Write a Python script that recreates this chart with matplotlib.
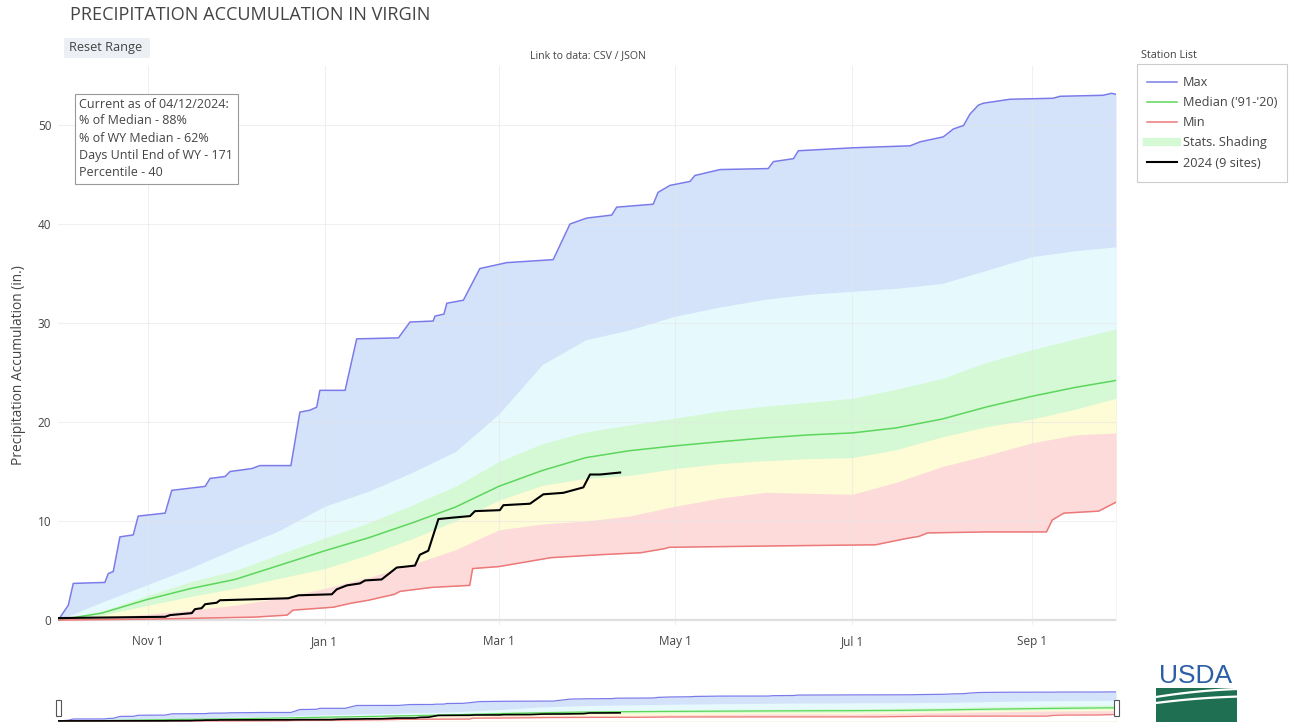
import datetime as dt
import matplotlib
matplotlib.use("Agg")
import matplotlib.pyplot as plt
import matplotlib.dates as mdates
from matplotlib.lines import Line2D
from matplotlib.patches import Rectangle, FancyBboxPatch
from matplotlib.ticker import FuncFormatter, MultipleLocator

plt.rcParams['font.family'] = ['Open Sans', 'DejaVu Sans']

W, H = 1291, 722
START = dt.datetime(2023, 10, 1)

# percentile bands, days since Oct 1 (water year 2024)
band_days = [0, 15, 31, 46, 61, 76, 92, 107, 122, 137, 152, 167, 182, 197,
             213, 228, 244, 259, 274, 289, 305, 320, 336, 351, 365]
p90 = [0, 1.8, 3.6, 5.3, 7.2, 9.0, 11.5, 13.0, 14.9, 17.0, 20.8, 25.8, 28.3, 29.3,
       30.7, 31.6, 32.4, 32.9, 33.2, 33.5, 34.0, 35.3, 36.7, 37.3, 37.7]
p70 = [0, 0.9, 2.5, 3.9, 5.0, 6.6, 8.3, 9.8, 11.6, 13.5, 16.0, 17.8, 19.0, 19.7,
       20.4, 21.1, 21.6, 22.0, 22.4, 23.3, 24.4, 26.0, 27.3, 28.4, 29.4]
median = [0, 0.7, 2.1, 3.2, 4.1, 5.5, 7.0, 8.3, 9.8, 11.4, 13.5, 15.1, 16.4, 17.1,
          17.6, 18.0, 18.4, 18.7, 18.9, 19.4, 20.3, 21.5, 22.6, 23.5, 24.2]
p30 = [0, 0.5, 1.5, 2.4, 3.2, 4.2, 5.2, 6.6, 8.2, 10.0, 12.1, 13.6, 14.3, 14.6,
       15.3, 15.8, 16.1, 16.3, 16.4, 17.2, 18.5, 19.5, 20.3, 21.3, 22.4]
p10 = [0, 0.2, 0.6, 1.0, 1.5, 2.2, 3.2, 4.3, 5.6, 7.1, 9.1, 9.7, 10.0, 10.5,
       11.5, 12.3, 12.9, 12.8, 12.7, 13.9, 15.5, 16.6, 17.9, 18.7, 18.9]

max_days = [0, 3.5, 5.2, 16.1, 17.3, 19, 21.3, 25.9, 27.6, 36.9, 39.2, 50.7, 52.4,
            57.6, 59.3, 66.8, 69.6, 80.3, 83.4, 86.9, 89.2, 90.3, 99, 103, 117.4,
            121.4, 129.4, 130, 133.1, 134.1, 139.8, 145.5, 154.8, 170.8, 176.6,
            182.4, 191, 192.7, 205.3, 207, 211.1, 218, 219.7, 228.4, 245, 246.8,
            253.7, 255.4, 274.4, 294, 297.4, 305.4, 308.9, 312.4, 314.6, 317.5,
            319.2, 328.4, 343.3, 345.7, 360.5, 363.5, 365]
max_vals = [0, 1.5, 3.7, 3.8, 4.7, 4.9, 8.4, 8.6, 10.5, 10.8, 13.1, 13.5, 14.3,
            14.5, 15.0, 15.3, 15.6, 15.6, 21.0, 21.2, 21.5, 23.2, 23.2, 28.4, 28.5,
            30.1, 30.2, 30.7, 30.9, 32.0, 32.3, 35.5, 36.1, 36.4, 40.0,
            40.6, 40.9, 41.7, 42.0, 43.2, 43.9, 44.3, 44.9, 45.5, 45.6, 46.3,
            46.6, 47.4, 47.7, 47.9, 48.3, 48.8, 49.6, 49.95, 51.1, 52.0,
            52.2, 52.6, 52.7, 52.9, 53.0, 53.2, 53.1]

min_days = [0, 33, 68, 79, 81, 95, 101, 107, 116, 118, 129, 142, 143, 152, 158, 170,
            187, 201, 209, 211, 251, 282, 292, 297, 300, 320, 341, 343, 347, 359, 365]
min_vals = [0, 0.1, 0.3, 0.5, 1.0, 1.3, 1.7, 2.0, 2.6, 2.9, 3.3, 3.5, 5.2, 5.4, 5.7,
            6.3, 6.6, 6.8, 7.2, 7.35, 7.5, 7.6, 8.2, 8.45, 8.8, 8.9, 8.9, 10.1, 10.8,
            11.0, 11.9]

cur_days = [0, 36.9, 38.6, 46.1, 47.2, 49.5, 50.7, 54.7, 55.8, 79.4, 82.9, 94.4, 96.1,
            99.6, 104.1, 105.9, 111.6, 116.8, 123.1, 124.8, 127.7, 131.2, 136.3,
            142.1, 143.8, 152.4, 153.6, 162.8, 167.4, 174.3, 181.2, 183.5, 187, 193.9]
cur_vals = [0.2, 0.33, 0.5, 0.7, 1.1, 1.2, 1.6, 1.75, 2.0, 2.2, 2.5, 2.6, 3.1,
            3.5, 3.7, 4.0, 4.1, 5.3, 5.5, 6.6, 7.0, 10.2, 10.35,
            10.5, 11.0, 11.1, 11.6, 11.75, 12.7, 12.85, 13.4, 14.7, 14.7, 14.9]

legend_labels = ["Max", "Median ('91-'20)", "Min", "Stats. Shading", "2024 (9 sites)"]
info_lines = ["Current as of 04/12/2024:", "% of Median - 88%", "% of WY Median - 62%",
              "Days Until End of WY - 171", "Percentile - 40"]

C_MAX_FILL = '#d4e3fa'
C_P90 = '#e6fafd'
C_P70 = '#d5f9d4'
C_P30 = '#fefcd6'
C_P10 = '#fddbdb'
C_MAX = '#7a7aea'
C_MED = '#5cd65c'
C_MIN = '#ec7878'
TXT = '#444444'


def to_dates(days):
    return [START + dt.timedelta(days=d) for d in days]


def draw_chart(ax, lw=1.0):
    ax.fill_between(to_dates(max_days), max_vals, 0, color=C_MAX_FILL, lw=0, zorder=1)
    ax.fill_between(to_dates(band_days), p90, 0, color=C_P90, lw=0, zorder=1)
    ax.fill_between(to_dates(band_days), p70, 0, color=C_P70, lw=0, zorder=1)
    ax.fill_between(to_dates(band_days), p30, 0, color=C_P30, lw=0, zorder=1)
    ax.fill_between(to_dates(band_days), p10, 0, color=C_P10, lw=0, zorder=1)
    ax.fill_between(to_dates(min_days), min_vals, 0, color='white', lw=0, zorder=1)
    l_max, = ax.plot(to_dates(max_days), max_vals, color=C_MAX, lw=1.1 * lw, zorder=3)
    l_med, = ax.plot(to_dates(band_days), median, color=C_MED, lw=1.1 * lw, zorder=3)
    l_min, = ax.plot(to_dates(min_days), min_vals, color=C_MIN, lw=1.1 * lw, zorder=3)
    l_cur, = ax.plot(to_dates(cur_days), cur_vals, color='black', lw=1.5 * lw, zorder=4)
    ax.set_xlim(START, START + dt.timedelta(days=365))
    return l_max, l_med, l_min, l_cur


fig = plt.figure(figsize=(W / 100, H / 100), dpi=100)

ax = fig.add_axes([58.2 / W, 1 - 625 / H, (1116 - 58.2) / W, (625 - 65.6) / H])
l_max, l_med, l_min, l_cur = draw_chart(ax)
ax.set_ylim(-0.5, 56)
ax.yaxis.set_major_locator(MultipleLocator(10))
ax.xaxis.set_major_locator(mdates.MonthLocator(bymonth=[11, 1, 3, 5, 7, 9]))
ax.xaxis.set_major_formatter(FuncFormatter(
    lambda v, p: "%s %d" % (mdates.num2date(v).strftime('%b'), mdates.num2date(v).day)))
ax.set_axisbelow('line')
ax.grid(True, color='#e6e6e6', lw=0.8, alpha=0.6)
ax.axhline(0, color='#dddddd', lw=1.6, zorder=1.5)
for s in ax.spines.values():
    s.set_visible(False)
ax.tick_params(length=0, labelsize=8.5, labelcolor=TXT)
ax.tick_params(axis='x', pad=7)
ax.tick_params(axis='y', pad=5)
ax.set_ylabel("Precipitation Accumulation (in.)", fontsize=9.9, color=TXT)
ax.yaxis.set_label_coords(-0.030, 0.465)

# legend, frame drawn separately
fig.add_artist(Rectangle((1137 / W, 1 - 182 / H), 150 / W, 118 / H, transform=fig.transFigure,
                         fc='white', ec='#cccccc', lw=0.8, zorder=1))
shade = Line2D([], [], color=C_P70, lw=6)
leg = fig.legend([l_max, l_med, l_min, shade, l_cur], legend_labels,
                 loc='upper left', bbox_to_anchor=(1147 / W, 1 - 76 / H),
                 bbox_transform=fig.transFigure, fontsize=9.2, frameon=False,
                 handlelength=2.35, handletextpad=0.45, labelspacing=0.56,
                 borderpad=0, borderaxespad=0)
leg.set_zorder(6)
for t in leg.get_texts():
    t.set_color(TXT)

# info box
fig.add_artist(Rectangle((75 / W, 1 - 184 / H), 163 / W, 90 / H, transform=fig.transFigure,
                         fc='white', ec='#999999', lw=0.8, zorder=5))
for i, line in enumerate(info_lines):
    fig.text(79 / W, 1 - (104 + 17 * i) / H, line, fontsize=9.0, color=TXT,
             va='center', ha='left', zorder=6)

# range slider
sax = fig.add_axes([58.2 / W, 0, (1116 - 58.2) / W, 34 / H])
draw_chart(sax, lw=0.8)
sax.set_ylim(-1.8, 60.3)
sax.axis('off')
for xh in (58.2, 1116):
    fig.add_artist(Rectangle(((xh - 2.5) / W, 1 - 716 / H), 5 / W, 16 / H,
                             transform=fig.transFigure, fc='white', ec='#555555', lw=0.8))

# header texts
fig.text(70 / W, 1 - 15 / H, "PRECIPITATION ACCUMULATION IN VIRGIN", fontsize=13.1,
         color=TXT, va='center', ha='left')
fig.add_artist(FancyBboxPatch((64 / W, 1 - 58 / H), 86 / W, 20 / H, transform=fig.transFigure,
                              boxstyle='round,pad=0,rounding_size=0.002',
                              fc='#eceff3', ec='none'))
fig.text(69 / W, 1 - 47 / H, "Reset Range", fontsize=9.2, color=TXT, va='center', ha='left')
fig.text(588 / W, 1 - 56 / H, "Link to data: CSV / JSON", fontsize=7.6, color=TXT,
         va='center', ha='center')
fig.text(1141 / W, 1 - 56 / H, "Station List", fontsize=7.8, color=TXT,
         va='center', ha='left')

# USDA logo
fig.text(1196 / W, 1 - 676 / H, "USDA", fontsize=19, color='#2d5fa6',
         family=['Liberation Sans Narrow', 'Liberation Sans', 'DejaVu Sans'],
         va='center', ha='center')
fig.add_artist(Rectangle((1156 / W, 0), 81 / W, 34 / H, transform=fig.transFigure,
                         fc='#1f6f52', ec='none'))
for yy, amp in ((692, 5), (699, 4)):
    xs = [1156 + k for k in range(0, 82, 2)]
    ys = [yy + amp * (1 - ((x - 1156) / 81.0)) ** 2 - amp * 0.6 * ((x - 1156) / 81.0) for x in xs]
    fig.add_artist(Line2D([x / W for x in xs], [1 - y / H for y in ys],
                          transform=fig.transFigure, color='white', lw=1.6))

fig.savefig("out.png", dpi=100)
